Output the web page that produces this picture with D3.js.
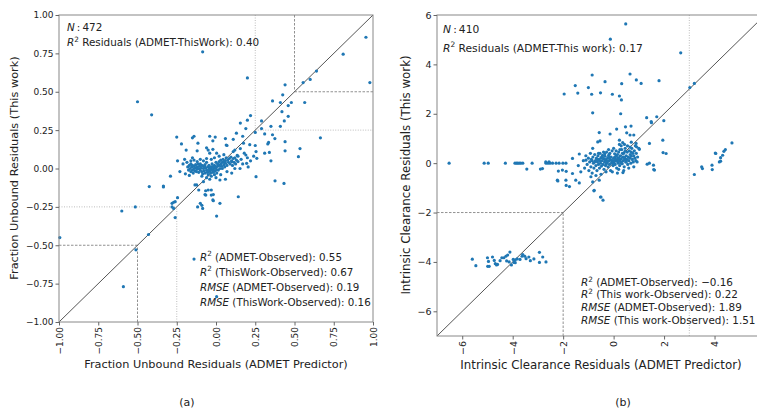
<!DOCTYPE html>
<html><head><meta charset="utf-8">
<script src="https://cdn.jsdelivr.net/npm/d3@7"></script>
<style>
html,body{margin:0;padding:0;background:#fff;overflow:hidden;}
svg{display:block;font-family:"DejaVu Sans",sans-serif;}
</style></head>
<body>
<svg id="chart" width="757" height="409"></svg>
<script>
// ---------- DATA ----------
const leftTicks = [-1, -0.75, -0.5, -0.25, 0, 0.25, 0.5, 0.75, 1];
const rightXTicks = [-6, -4, -2, 0, 2, 4];
const rightYTicks = [-6, -4, -2, 0, 2, 4, 6];
const leftDomain = [-1, 1];
const rightDomain = [-7, 6];

const leftPoints = [
[-0.085,0.76],[0.20,0.59],[-0.50,0.435],[-0.41,0.35],[0.955,0.855],[0.81,0.745],[0.98,0.56],[0.64,0.635],[0.60,0.58],[0.555,0.56],
[0.44,0.545],[0.425,0.48],[0.36,0.44],[0.41,0.43],[0.48,0.43],[0.46,0.41],[0.565,0.43],[0.42,0.37],[0.46,0.34],[0.435,0.31],
[0.41,0.275],[0.665,0.20],[0.22,0.345],[0.20,0.315],[0.155,0.296],[0.29,0.31],[0.35,0.275],[0.29,0.26],[0.19,0.26],[0.25,0.235],
[0.31,0.225],[0.36,0.22],[0.335,0.17],[0.44,0.175],[0.44,0.115],[0.535,0.13],[0.525,0.077],[0.17,0.21],[0.13,0.23],[0.175,0.165],
[0.215,0.155],[0.25,0.15],[0.255,0.11],[0.24,0.08],[0.34,0.105],[0.35,0.05],[0.11,0.19],[0.06,0.195],[0.065,0.153],[0.155,0.13],
[0.12,0.12],[0.11,0.11],[0.19,0.088],[0.22,0.05],[0.10,0.045],[0.14,0.08],[-0.25,0.205],[-0.15,0.20],[-0.14,0.21],[-0.04,0.21],
[-0.005,0.205],[-0.22,0.16],[-0.115,0.165],[-0.19,0.12],[-0.12,0.115],[-0.05,0.12],[-0.02,0.125],[-0.02,0.18],[-0.245,0.05],[-0.15,0.07],
[-0.06,0.135],[-0.04,0.10],[0.004,0.10],[0.07,0.15],[0.31,0.10],[0.33,0.16],[0.375,0.195],[0.26,0.066],[0.195,0.034],[0.153,0.0],
[0.205,0.01],[0.255,-0.053],[-0.23,-0.02],[-0.29,-0.05],[-0.335,-0.12],[-0.134,-0.107],[-0.08,-0.086],[0.025,-0.075],[0.06,-0.07],[-0.11,-0.14],
[-0.05,-0.14],[-0.03,-0.14],[-0.07,-0.17],[-0.017,-0.17],[-0.10,-0.227],[-0.02,-0.205],[0.025,-0.227],[0.142,-0.184],[-0.117,-0.25],[-0.085,-0.26],
[0.004,-0.31],[0.376,-0.08],[0.433,-0.097],[-0.26,-0.216],[-0.28,-0.227],[-0.27,-0.26],[-0.425,-0.118],[-0.335,-0.114],[-0.245,-0.19],[-0.27,-0.22],
[-0.28,-0.25],[-0.26,-0.32],[-0.514,-0.25],[-0.60,-0.277],[-0.43,-0.43],[-0.51,-0.53],[-0.59,-0.77],[-0.995,-0.45],[-0.14,-0.59],[0.004,-0.835],
[-0.123,-0.107],[-0.09,-0.24],[-0.066,-0.145],[-0.065,-0.173],[-0.03,-0.173],[-0.017,-0.21],
[-0.18,0.01],[-0.175,-0.01],[-0.17,0.02],[-0.165,0.0],[-0.16,-0.02],[-0.16,0.03],[-0.155,0.01],[-0.15,-0.01],[-0.15,0.02],[-0.145,-0.03],
[-0.14,0.0],[-0.14,0.015],[-0.135,-0.015],[-0.13,0.025],[-0.13,0.005],[-0.125,-0.02],[-0.12,0.01],[-0.12,-0.005],[-0.115,0.03],[-0.11,-0.025],
[-0.11,0.0],[-0.105,0.015],[-0.1,-0.01],[-0.1,0.03],[-0.095,0.005],[-0.09,-0.02],[-0.09,0.02],[-0.085,-0.035],[-0.08,0.0],[-0.08,0.015],
[-0.075,-0.015],[-0.07,0.025],[-0.07,-0.03],[-0.065,0.005],[-0.06,-0.01],[-0.06,0.04],[-0.055,-0.025],[-0.05,0.01],[-0.05,-0.04],[-0.045,0.02],
[-0.04,-0.015],[-0.04,0.0],[-0.035,-0.03],[-0.03,0.01],[-0.03,-0.05],[-0.025,0.03],[-0.02,-0.01],[-0.02,-0.025],[-0.015,0.0],[-0.01,0.02],
[-0.01,-0.04],[-0.005,-0.015],[0.0,0.005],[0.0,0.04],[0.005,-0.03],[0.01,0.015],[0.01,0.03],[0.015,-0.01],[0.02,0.02],[0.02,0.045],
[0.025,0.0],[0.03,0.03],[0.03,0.055],[0.035,0.015],[0.04,0.04],[0.04,0.0],[0.045,0.06],[0.05,0.025],[0.05,0.045],[0.055,0.01],
[0.06,0.05],[0.06,0.035],[0.065,0.07],[0.07,0.02],[0.075,0.055],[0.08,0.04],[0.085,0.065],[0.09,0.03],[0.095,0.075],[0.1,0.05],
[0.105,0.02],[0.11,0.065],[0.115,0.04],[0.12,0.07],[0.125,0.03],[0.13,0.055],[0.135,0.085],[0.14,0.045],
[-0.185,0.04],[-0.2,0.06],[-0.21,0.03],[-0.195,-0.035],[-0.17,-0.045],[-0.16,0.05],[-0.14,0.055],[-0.12,0.045],[-0.1,0.06],[-0.08,0.05],
[-0.06,0.065],[-0.03,0.06],[-0.01,0.07],[0.02,0.08],[0.05,0.09],[-0.09,-0.05],[-0.06,-0.06],[-0.04,-0.07],[0.0,-0.06],[0.03,-0.04],
[0.07,-0.02],[0.1,-0.03],[0.12,0.0],[0.16,0.06],[0.18,0.1],[0.17,0.03],[0.2,0.07],[-0.03,-0.005],[-0.025,-0.012],[-0.035,0.008],
[-0.045,-0.005],[-0.015,-0.02],[-0.005,0.01],[0.005,-0.008],[-0.05,-0.02],[-0.07,0.01],[-0.02,0.012]
];

const rightPoints = [
[0.48,5.64],[-0.13,5.02],[2.66,4.47],[-0.85,3.57],[0.65,3.61],[-1.52,3.14],[-1.0,3.06],[-0.34,3.30],[0.32,3.22],[0.90,3.37],
[1.09,3.23],[1.80,3.34],[-1.96,2.80],[-1.42,2.84],[-0.87,2.79],[-0.52,2.85],[-0.05,2.79],[0.23,2.72],[0.31,2.56],[-0.83,2.04],
[0.28,2.0],[1.31,1.84],[1.71,1.88],[1.50,1.64],[1.99,1.72],[3.02,3.06],[3.2,3.23],
[4.69,0.82],[4.43,0.55],[4.37,0.48],[4.32,0.32],[4.24,0.22],[4.19,0.05],[4.03,0.41],[3.49,-0.15],[3.52,-0.22],
[3.9,-0.08],[3.91,-0.26],[3.2,-0.46],[4.05,0.39],[4.24,0.08],
[-6.52,0],[-5.13,0],[-4.97,0],[-4.29,0],[-3.91,0],[-3.85,0],[-3.8,0],[-3.74,0],[-3.68,0],[-3.6,0],
[-3.44,-0.24],[-3.23,0],[-2.9,-0.24],[-2.68,0],[-2.6,0],[-2.52,0],[-2.42,0],[-2.28,0],[-2.19,-0.32],[-2.01,0],
[-1.88,-0.33],[-2.21,-0.72],[-1.88,-0.9],[-1.75,-0.95],[-0.78,-1.12],[-0.52,-1.37],[-0.42,-1.5],[0.37,-0.38],[1.33,-0.04],[1.58,-0.08],
[1.59,-0.26],[1.96,0.43],
[-5.6,-3.89],[-5.46,-4.15],[-5.0,-3.83],[-4.96,-3.98],[-4.93,-4.18],[-4.99,-4.18],[-4.8,-3.8],[-4.73,-3.94],[-4.69,-4.07],[-4.64,-4.12],
[-4.6,-4.1],[-4.43,-3.83],[-4.35,-3.83],[-4.27,-3.77],[-4.24,-3.96],[-4.14,-4.0],[-4.11,-3.6],[-3.98,-3.9],[-3.9,-3.92],[-3.82,-3.88],
[-3.71,-3.9],[-3.63,-3.77],[-3.52,-3.77],[-3.47,-3.87],[-3.36,-3.8],[-3.16,-3.88],[-2.94,-3.61],[-2.81,-3.8],[-2.94,-4.02],[-2.68,-4.0],
[-3.95,-4.02],[-3.9,-4.03],[-4.05,-4.12],[-4.2,-3.72],[-3.6,-3.7],[-3.3,-3.95],[-4.5,-3.95],
[1.49,1.68],[0.47,1.47],[0.69,1.5],[0.12,1.38],[0.52,1.23],[0.8,1.14],[0.65,1.14],[-0.57,1.24],[-0.14,1.18],[-0.54,0.9],
[-0.63,0.86],[0.23,0.93],[0.36,0.83],[0.43,0.76],[0.23,0.76],[0.89,0.8],[0.91,0.66],[1.02,0.56],[1.42,0.8],[1.95,0.93],
[2.08,0.39],[-0.83,0.6],[-1.36,0.37],[-1.1,0.12],[-1.63,0.19],[-1.89,0],[-2.16,0],[-2.56,0.05],[-2.69,0.05],[-2.82,-0.22],
[-2.03,-0.28],[-2.23,-0.69],[-1.89,-0.69],[-1.5,-0.69],[-1.63,-0.42],[-1.36,-0.8],[-0.83,-0.76],[-0.57,-0.69],[-0.77,-1.1],[-0.5,-1.37],
[1.42,0],[1.62,-0.28],
[-1.2,0.1],[-1.15,-0.2],[-1.1,0.3],[-1.05,-0.05],[-1.0,0.2],[-0.98,-0.3],[-0.95,0.05],[-0.92,0.4],[-0.9,-0.15],[-0.88,0.15],
[-0.85,-0.4],[-0.82,0.25],[-0.8,0.0],[-0.78,-0.2],[-0.75,0.35],[-0.72,0.1],[-0.7,-0.1],[-0.68,0.2],[-0.66,-0.3],[-0.64,0.05],
[-0.62,0.3],[-0.6,-0.05],[-0.58,0.15],[-0.56,-0.2],[-0.54,0.4],[-0.52,0.0],[-0.5,0.22],[-0.48,-0.12],[-0.46,0.1],[-0.44,0.32],
[-0.42,-0.05],[-0.4,0.18],[-0.38,-0.25],[-0.36,0.05],[-0.34,0.28],[-0.32,-0.1],[-0.3,0.12],[-0.28,0.45],[-0.26,0.0],[-0.24,0.2],
[-0.22,-0.15],[-0.2,0.08],[-0.18,0.35],[-0.16,-0.05],[-0.14,0.15],[-0.12,-0.3],[-0.1,0.25],[-0.08,0.02],[-0.06,0.5],[-0.04,0.1],
[-0.02,-0.1],[0.0,0.2],[0.02,0.05],[0.04,0.38],[0.06,-0.05],[0.08,0.15],[0.1,0.3],[0.12,-0.2],[0.14,0.08],[0.16,0.22],
[0.18,0.0],[0.2,0.45],[0.22,0.12],[0.24,-0.1],[0.26,0.3],[0.28,0.05],[0.3,0.18],[0.32,0.55],[0.34,-0.02],[0.36,0.25],
[0.38,0.1],[0.4,0.4],[0.42,-0.15],[0.44,0.2],[0.46,0.6],[0.48,0.05],[0.5,0.3],[0.52,0.15],[0.54,0.45],[0.56,-0.05],
[0.58,0.25],[0.6,0.1],[0.62,0.5],[0.64,0.2],[0.66,0.35],[0.68,0.0],[0.7,0.28],[0.72,0.6],[0.74,0.15],[0.76,0.4],
[0.78,0.05],[0.8,0.3],[0.82,0.5],[0.84,0.2],[0.86,0.7],[0.88,0.1],[0.9,0.4],[0.95,0.25],[1.0,0.6],[0.93,0.05],
[-0.35,0.15],[-0.25,0.08],[-0.15,0.22],[-0.05,0.0],[0.05,0.25],[0.15,0.35],[0.25,0.1],[0.35,0.4],[0.45,0.15],[-0.3,-0.02],
[-0.2,0.3],[-0.1,0.12],[0.0,-0.05],[0.1,0.1],[0.2,0.2],[0.3,0.0],[0.4,0.25],[0.5,0.05],[-0.45,0.25],[-0.55,0.1],
[-0.65,0.15],[-0.75,0.05],[-0.85,0.1],[-0.6,0.4],[-0.4,0.45],[-0.2,0.55],[0.0,0.6],[0.1,0.5],[0.3,0.7],[0.55,0.7],
[0.7,0.85],[0.6,-0.2],[0.4,-0.3],[0.2,-0.25],[-0.05,-0.35],[-0.3,-0.35],[-0.5,-0.45],[-0.7,-0.5],[-0.9,-0.55],[0.15,-0.4],
[0.8,-0.15],[0.65,0.65],[-0.15,0.4],[0.25,0.55],[0.05,0.15],[-0.35,0.38],[0.45,0.48],[0.7,0.45],[-1.3,-0.35],[-1.4,-0.1]
];

// reference guide lines [x1,y1,x2,y2,kind]
const leftGuides = [
  [0.25,1,0.25,0.25,"dot"],[0.25,0.25,1,0.25,"dot"],[-1,-0.25,-0.25,-0.25,"dot"],[-0.25,-1,-0.25,-0.25,"dot"],
  [0.5,1,0.5,0.5,"dash"],[0.5,0.5,1,0.5,"dash"],[-1,-0.5,-0.5,-0.5,"dash"],[-0.5,-1,-0.5,-0.5,"dash"]
];
const rightGuides = [
  [-7,-2,-2,-2,"dash"],[-2,-7,-2,-2,"dash"],[3,-7,3,6,"dot"]
];

const leftTopNotes = [
  [{t:"N",i:1},{t:"\u2009:\u2009472"}],
  [{t:"R",i:1},{t:"2",s:1},{t:" Residuals (ADMET-ThisWork): 0.40"}]
];
const leftBottomNotes = [
  [{t:"R",i:1},{t:"2",s:1},{t:" (ADMET-Observed): 0.55"}],
  [{t:"R",i:1},{t:"2",s:1},{t:" (ThisWork-Observed): 0.67"}],
  [{t:"RMSE",i:1},{t:" (ADMET-Observed): 0.19"}],
  [{t:"RMSE",i:1},{t:" (ThisWork-Observed): 0.16"}]
];
const rightTopNotes = [
  [{t:"N",i:1},{t:"\u2009:\u2009410"}],
  [{t:"R",i:1},{t:"2",s:1},{t:" Residuals (ADMET-This work): 0.17"}]
];
const rightBottomNotes = [
  [{t:"R",i:1},{t:"2",s:1},{t:" (ADMET-Observed): \u22120.16"}],
  [{t:"R",i:1},{t:"2",s:1},{t:" (This work-Observed): 0.22"}],
  [{t:"RMSE",i:1},{t:" (ADMET-Observed): 1.89"}],
  [{t:"RMSE",i:1},{t:" (This work-Observed): 1.51"}]
];

const labels = {
  leftX: "Fraction Unbound Residuals (ADMET Predictor)",
  leftY: "Fraction Unbound Residuals (This work)",
  rightX: "Intrinsic Clearance Residuals (ADMET Predictor)",
  rightY: "Intrinsic Clearance Residuals (This work)",
  capA: "(a)", capB: "(b)"
};

// ---------- DRAW ----------
const svg = d3.select("#chart");
const PT = "#1f77b4";

function notes(g, lines, x, y0, dy, fs) {
  lines.forEach((segs, k) => {
    const t = g.append("text").attr("x", x).attr("y", y0 + k*dy)
      .attr("font-size", fs).attr("fill", "#222");
    let sup = false;
    segs.forEach(s => {
      const ts = t.append("tspan").text(s.t);
      if (s.i) ts.attr("font-style", "italic");
      if (s.s) { ts.attr("font-size", fs*0.7).attr("dy", -fs*0.4); sup = true; }
      else if (sup) { ts.attr("dy", fs*0.4); sup = false; }
    });
  });
}

function panel(cfg) {
  const x = d3.scaleLinear().domain(cfg.domain).range(cfg.xr);
  const y = d3.scaleLinear().domain(cfg.domain).range(cfg.yr);
  const g = svg.append("g");

  g.selectAll("line.guide").data(cfg.guides).enter().append("line")
    .attr("x1", d => x(d[0])).attr("y1", d => y(d[1]))
    .attr("x2", d => x(d[2])).attr("y2", d => y(d[3]))
    .attr("stroke", d => d[4] === "dot" ? "#b5b5b5" : "#858585")
    .attr("stroke-width", 0.9)
    .attr("stroke-dasharray", d => d[4] === "dot" ? "1,1.5" : "2.5,1.5");

  g.append("line")
    .attr("x1", x(cfg.domain[0])).attr("y1", y(cfg.domain[0]))
    .attr("x2", x(cfg.domain[1])).attr("y2", y(cfg.domain[1]))
    .attr("stroke", "#555").attr("stroke-width", 1);

  g.selectAll("circle").data(cfg.points).enter().append("circle")
    .attr("cx", d => x(d[0])).attr("cy", d => y(d[1]))
    .attr("r", 1.6).attr("fill", PT);

  g.append("rect")
    .attr("x", cfg.xr[0]).attr("y", cfg.yr[1])
    .attr("width", cfg.xr[1]-cfg.xr[0]).attr("height", cfg.yr[0]-cfg.yr[1])
    .attr("fill", "none").attr("stroke", "#888").attr("stroke-width", 1);

  const ax = g.append("g").attr("transform", `translate(0,${cfg.yr[0]})`)
    .call(d3.axisBottom(x).tickValues(cfg.xticks).tickFormat(d3.format(cfg.fmt)).tickSize(3.5).tickPadding(2));
  ax.select(".domain").remove();
  ax.selectAll(".tick line").attr("stroke", "#666");
  ax.selectAll("text").attr("transform", "rotate(-90)")
    .attr("x", -5).attr("y", 0).attr("dy", "0.35em")
    .style("text-anchor", "end").attr("font-size", cfg.tfs).attr("fill", "#222")
    .attr("font-family", "DejaVu Sans");

  const ay = g.append("g").attr("transform", `translate(${cfg.xr[0]},0)`)
    .call(d3.axisLeft(y).tickValues(cfg.yticks).tickFormat(d3.format(cfg.fmt)).tickSize(3.5).tickPadding(2));
  ay.select(".domain").remove();
  ay.selectAll(".tick line").attr("stroke", "#666");
  ay.selectAll("text").attr("font-size", cfg.tfs).attr("fill", "#222").attr("font-family", "DejaVu Sans");

  g.append("text").attr("x", cfg.xlab[0]).attr("y", cfg.xlab[1])
    .attr("text-anchor", "middle").attr("font-size", cfg.lfs).attr("fill", "#222").text(cfg.xl);
  g.append("text").attr("transform", `translate(${cfg.ylab[0]},${cfg.ylab[1]}) rotate(-90)`)
    .attr("text-anchor", "middle").attr("font-size", cfg.lfs).attr("fill", "#222").text(cfg.yl);
  g.append("text").attr("x", cfg.cap[0]).attr("y", cfg.cap[1])
    .attr("text-anchor", "middle").attr("font-size", 11).attr("fill", "#222").text(cfg.capt);

  notes(g, cfg.top, cfg.topPos[0], cfg.topPos[1], cfg.topPos[2], cfg.nfs[0]);
  notes(g, cfg.bottom, cfg.botPos[0], cfg.botPos[1], cfg.botPos[2], cfg.nfs[1]);
}

panel({
  domain: leftDomain, xr: [59, 373], yr: [322, 15], xticks: leftTicks, yticks: leftTicks, fmt: ".2f", tfs: 9,
  guides: leftGuides, points: leftPoints,
  xl: labels.leftX, yl: labels.leftY, xlab: [216, 368], ylab: [18, 168], lfs: 11.3,
  cap: [187, 406], capt: labels.capA, nfs: [10.4, 10.3],
  top: leftTopNotes, topPos: [67, 30.5, 15.2], bottom: leftBottomNotes, botPos: [200, 260.5, 15.1]
});
panel({
  domain: rightDomain, xr: [437, 765], yr: [336, 15], xticks: rightXTicks, yticks: rightYTicks, fmt: "d", tfs: 9.5,
  guides: rightGuides, points: rightPoints,
  xl: labels.rightX, yl: labels.rightY, xlab: [601, 369], ylab: [410, 175], lfs: 11.8,
  cap: [623, 406], capt: labels.capB, nfs: [10.7, 10.4],
  top: rightTopNotes, topPos: [443, 33.3, 18.4], bottom: rightBottomNotes, botPos: [581, 285.7, 12.6]
});
</script>
</body></html>
